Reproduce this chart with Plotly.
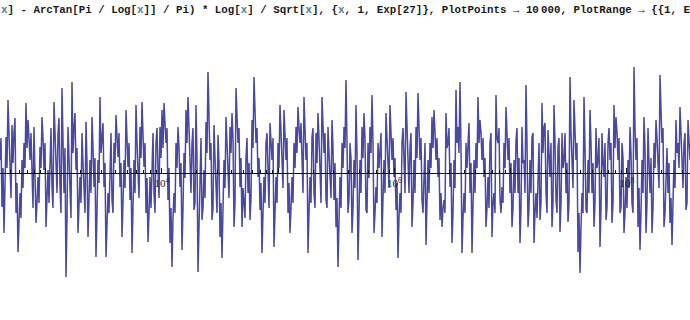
import numpy as np
import plotly.graph_objects as go

# hand-read values of the oscillating curve, left to right, evenly spaced in log x
seg1 = [0.13, -0.34, -0.60, 0.36, 0.73, 0.13, 0.48, 0.41, -0.40, -0.79,
        -0.20, 0.13, 0.30, 0.70, 0.53, 0.13, -0.20, 0.46, -0.50, -0.04,
        0.26, 0.56, 0.03, -0.54, 0.03, 0.30, -0.14, 0.71, 0.13, 0.40,
        -0.14, 0.85, -0.20, -1.04, 0.46, -0.20, 0.91, 0.46, 0.03, -0.60,
        -0.04, 0.40, -0.20, 0.51, -0.64, 0.13, 0.56, -0.14, -0.84, 0.13,
        0.76, 0.40, -0.14, -0.84, -0.20, 0.20, -0.27, 0.30, 0.58, 0.16,
        -0.14, -0.64, 0.13, 0.63, 0.06, -0.27, -0.80, 0.13, 0.68, 0.03,
        0.46, 0.71, 0.06, -0.40, -0.69, -0.04, 0.20, -0.20, 0.30, 0.03,
        0.46, 0.63, 0.70, 0.30, -0.27, -0.70, -0.94]
seg2 = [-0.20, 0.30, 0.46, -0.14, -0.77, 0.20, 0.63, 0.76, 0.13, 0.30,
        -0.37, 0.68, -0.99, 0.13, -0.47, 0.03, 0.51, 1.01, 0.13, -0.47,
        0.48, -0.20, 0.38, -0.64, -0.85, 0.13, 0.56, 0.03, 0.46, 0.60,
        -0.54, 0.85, 0.30, -0.14, -0.54, -0.30, 0.16, -0.20, -0.47, 0.53,
        0.96, 0.30, -0.04, -0.37, -0.80, -0.04, 0.30, -0.20, 0.50, 0.13,
        -0.74, -0.04, 0.30, 0.68, 0.13, 0.63, 0.13, -0.40, -0.60, -0.04,
        0.30, 0.46, 0.66, 0.30, 0.03, 0.76, 0.13, -0.80, -0.04, 0.36,
        -0.20, 0.40, 0.60, -0.14, 0.76, 0.20, -0.27, 0.46, 0.03, 0.53,
        -0.27, -0.54, -0.94, -0.04, 0.30, 0.46]
seg3 = [0.93, -0.40, 0.30, -0.60, 0.13, 0.68, -0.87, 0.13, 0.46, 0.60,
        -0.37, 0.30, 0.46, 0.78, -0.60, -0.14, 0.30, 0.31, -0.64, 0.13,
        0.60, 0.13, 0.68, 0.13, -0.04, -0.37, -0.85, -0.20, 0.30, 0.13,
        0.81, 0.13, 0.26, -0.54, 0.13, 0.46, 0.80, 0.13, -0.27, 0.13,
        -0.72, 0.13, 0.30, 0.56, 0.63, 0.13, -0.04, -0.47, -0.54, -0.27,
        0.60, 0.30, -0.14, -0.70, 0.13, 0.83, 0.46, 0.91, -0.80, -0.20,
        0.30, 0.36, -0.20, -0.80, 0.13, 0.30, 0.76, 0.53, 0.13, -0.04,
        -0.54, -0.04, 0.30, -0.64, -0.20, 0.78, 0.30, -0.27, -0.14, 0.30,
        0.66, 0.13, -0.20, -0.54, 0.13, 0.33]
seg4 = [-0.20, -0.70, 0.46, 0.13, 0.88, -0.54, 0.13, 0.36, -0.70, -0.20,
        -0.04, -0.47, 0.70, 0.46, -0.20, 0.43, -0.04, -0.54, 0.68, -0.27,
        0.26, -0.59, 0.40, 0.13, -0.20, -0.49, 0.96, 0.13, 0.73, 0.13,
        -0.79, -1.00, -0.20, 0.76, -0.37, 0.13, 0.63, -0.20, -0.54, 0.45,
        0.13, -0.74, 0.40, -0.04, -0.47, 0.30, 0.13, -0.50, 0.68, 0.56,
        0.13, -0.40, 0.30, -0.60, -0.04, 0.13, 0.46, -0.30, 1.06, 0.13,
        -0.54, -0.77, 0.13, 0.56, -0.60, 0.45, -0.20, -0.60, 0.30, 0.53,
        0.13, 0.98, 0.30, -0.54, -0.14, -0.20, -0.50, -0.72, 0.13, 0.53,
        0.30, 0.66, 0.13, 0.30, -0.37, 0.53, 0.13]

# hand-read fine wiggles lying between consecutive values above
mid1 = [0.35, 0.05, -0.20, 0.05, 0.40, -0.25, 0.10, 0.55, -0.10, -0.45,
        -0.45, -0.15, 0.05, 0.25, 0.35, 0.40, -0.35, 0.05, -0.30, -0.30,
        0.05, 0.35, 0.30, -0.25, -0.30, 0.45, -0.35, 0.35, -0.20, 0.55,
        -0.40, 0.30, 0.25, -0.45, 0.15, -0.45, 0.20, 0.60, 0.25, -0.35,
        -0.30, 0.10, -0.40, 0.10, -0.25, -0.20, 0.25, 0.15, -0.40, -0.10,
        0.20, 0.50, 0.10, -0.45, -0.40, 0.40, -0.40, 0.10, 0.30, 0.40,
        0.10, -0.30, -0.15, 0.35, 0.30, 0.05, -0.35, -0.20, 0.30, -0.25,
        0.15, 0.40, 0.30, -0.05, -0.40, -0.35, 0.40, -0.40, 0.45, -0.25,
        0.15, 0.25, 0.50, 0.45, 0.05, -0.35, -0.45]
mid2 = [-0.40, 0.05, 0.25, 0.10, -0.35, -0.05, 0.30, 0.45, -0.20, 0.45,
        -0.30, 0.15, -0.40, 0.35, -0.35, -0.25, 0.20, 0.35, 0.30, -0.35,
        0.15, -0.40, 0.10, -0.30, -0.40, -0.15, 0.30, -0.25, 0.20, 0.35,
        -0.30, 0.45, 0.45, 0.15, -0.15, -0.45, 0.35, 0.10, -0.25, 0.25,
        0.55, 0.45, 0.15, -0.10, -0.40, -0.30, 0.40, -0.35, 0.25, 0.35,
        -0.40, -0.30, 0.05, 0.40, -0.15, 0.30, 0.35, -0.10, -0.35, -0.30,
        0.05, 0.20, 0.45, 0.50, -0.20, 0.35, 0.30, -0.40, -0.30, 0.45,
        -0.35, 0.10, 0.35, -0.30, 0.40, 0.40, -0.35, 0.20, -0.25, 0.25,
        0.10, -0.25, -0.45, -0.35, 0.05, 0.25]
mid3 = [0.30, -0.25, 0.15, -0.35, -0.15, 0.20, -0.40, -0.20, 0.15, 0.35,
        -0.40, -0.05, 0.20, 0.30, -0.40, -0.30, 0.05, 0.40, -0.30, -0.20,
        0.35, -0.15, 0.40, 0.35, 0.15, -0.10, -0.45, -0.40, 0.45, -0.20,
        0.40, -0.20, 0.40, -0.30, -0.20, 0.15, 0.45, 0.35, -0.40, 0.30,
        -0.35, -0.20, 0.05, 0.25, 0.40, 0.35, 0.15, -0.20, -0.35, -0.40,
        0.25, 0.45, 0.10, -0.40, -0.15, 0.30, 0.20, 0.25, -0.45, -0.40,
        0.05, 0.50, 0.10, -0.40, -0.20, 0.05, 0.30, 0.40, 0.35, 0.15,
        -0.35, -0.35, 0.40, -0.30, -0.40, 0.35, 0.45, -0.40, -0.30, 0.05,
        0.40, 0.35, 0.10, -0.35, -0.20, 0.45]
mid4 = [0.15, -0.35, 0.10, -0.20, 0.30, -0.35, -0.20, 0.40, -0.40, -0.45,
        0.30, -0.30, 0.20, 0.50, -0.40, 0.10, 0.30, -0.30, 0.30, -0.40,
        0.35, -0.30, 0.05, 0.40, 0.10, -0.30, 0.40, -0.15, 0.35, 0.30,
        -0.40, -0.55, -0.40, 0.25, -0.40, -0.20, 0.30, 0.10, -0.30, 0.05,
        0.35, -0.35, 0.10, 0.30, -0.35, 0.45, 0.30, -0.30, 0.25, 0.40,
        0.35, -0.35, 0.15, -0.40, -0.35, -0.15, 0.20, -0.40, 0.45, 0.35,
        -0.15, -0.40, -0.20, 0.25, -0.30, 0.10, 0.15, -0.35, 0.05, 0.35,
        -0.15, 0.45, 0.45, -0.40, 0.25, 0.10, -0.25, -0.40, -0.15, 0.20,
        0.05, 0.40, -0.15, 0.40, -0.30, 0.25]

main_values = seg1 + seg2 + seg3 + seg4
fine_values = mid1 + mid2 + mid3 + mid4
y_values = [v for pair in zip(main_values, fine_values) for v in pair] + [main_values[-1]]

log_x_start = 2.6065
log_x_end = 8.542
x_values = np.logspace(log_x_start, log_x_end, len(y_values))

major_decades = [2, 3, 4, 5, 6, 7, 8]
labelled_decades = [4, 6, 8]
minor_multipliers = [2, 3, 4, 5, 6, 7, 8, 9]

title_parts = [
    ("x", True), ("] - ArcTan[Pi / Log[", False), ("x", True), ("]] / Pi) * Log[", False),
    ("x", True), ("] / Sqrt[", False), ("x", True), ("], {", False), ("x", True),
    (", 1, Exp[27]}, PlotPoints \u2192 10\u2009000, PlotRange \u2192 {{1, Exp[27]}}", False),
]

major_vals = [10.0 ** d for d in major_decades]
major_text = [f"10<sup>{d}</sup>" if d in labelled_decades else "" for d in major_decades]
minor_vals = [m * 10.0 ** d for d in major_decades for m in minor_multipliers]

fig = go.Figure()
fig.add_trace(go.Scatter(
    x=x_values, y=y_values, mode="lines",
    line=dict(color="rgba(58,58,152,0.92)", width=1.5),
    hoverinfo="skip", showlegend=False,
))

title_html = "".join(
    f'<span style="color:#3f7f9f">{t}</span>' if var else t for t, var in title_parts
)
fig.add_annotation(
    text=f"<b>{title_html}</b>", xref="paper", yref="paper", x=0, y=1,
    xanchor="left", yanchor="top", xshift=-1, yshift=-2, showarrow=False,
    font=dict(family="Liberation Mono", size=10.8, color="#1a1a1a"), align="left",
)

fig.update_layout(
    width=690, height=320, margin=dict(l=0, r=0, t=0, b=0),
    paper_bgcolor="white", plot_bgcolor="white",
    xaxis=dict(
        type="log", range=[log_x_start, log_x_end], anchor="free", position=147 / 320,
        showline=True, linecolor="#111", linewidth=1, showgrid=False, zeroline=False,
        tickmode="array", tickvals=major_vals, ticktext=major_text,
        ticks="inside", ticklen=5, tickcolor="#111", tickwidth=1,
        tickfont=dict(family="Liberation Serif", size=11, color="#222"),
        minor=dict(tickmode="array", tickvals=minor_vals, ticks="inside", ticklen=3,
                   tickcolor="#111", tickwidth=1, showgrid=False),
    ),
    yaxis=dict(range=[-1.47, 1.73], visible=False),
)

fig.write_html("out.html")
